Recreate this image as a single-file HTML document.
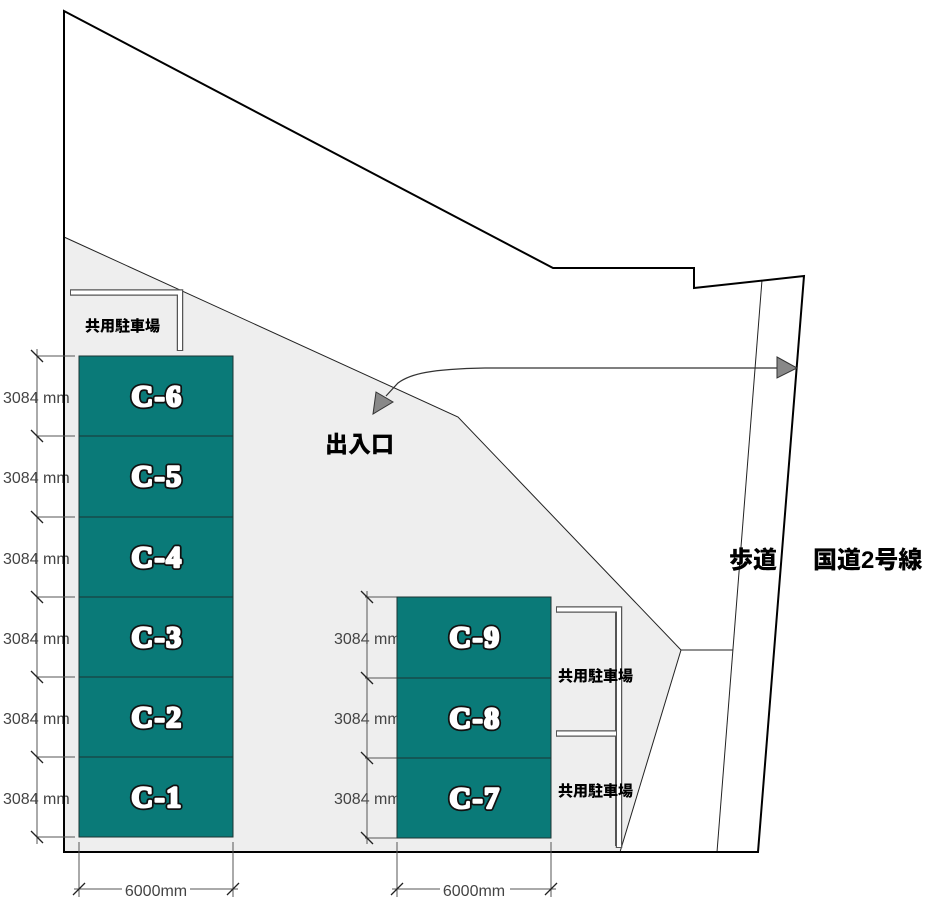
<!DOCTYPE html>
<html><head><meta charset="utf-8"><style>
html,body{margin:0;padding:0;background:#fff;}
svg{display:block;}
.dim{font-family:"Liberation Sans",sans-serif;font-size:16px;fill:#444;}
.cl{font-family:"Liberation Serif",serif;font-weight:bold;font-size:30px;letter-spacing:1.5px;text-anchor:middle;}
.jp{font-family:"Liberation Sans","Noto Sans CJK JP",sans-serif;font-weight:900;fill:#000;}
</style></head><body>
<svg width="929" height="912" viewBox="0 0 929 912" xmlns="http://www.w3.org/2000/svg">
<defs>
<clipPath id="lc"><rect x="0" y="300" width="70" height="560"/></clipPath>
<clipPath id="rc"><rect x="300" y="580" width="97" height="280"/></clipPath>
</defs>
<rect width="929" height="912" fill="#fff"/>
<!-- gray area -->
<polygon points="64,237 458,417 681,650 620,852 64,852" fill="#eeeeee" stroke="none"/>
<polyline points="64,237 458,417 681,650 620,852" fill="none" stroke="#222" stroke-width="1"/>
<line x1="681" y1="650" x2="733" y2="650" stroke="#222" stroke-width="1"/>
<!-- left dim texts -->
<g class="dim" clip-path="url(#lc)">
<text x="3" y="403">3084 mm</text>
<text x="3" y="483">3084 mm</text>
<text x="3" y="564">3084 mm</text>
<text x="3" y="644">3084 mm</text>
<text x="3" y="724">3084 mm</text>
<text x="3" y="804">3084 mm</text>
</g>
<!-- sidewalk line -->
<line x1="762" y1="280" x2="717" y2="852" stroke="#222" stroke-width="1"/>
<!-- outer boundary -->
<path d="M64,852 V11 L553,268 H694 V288 L804,276 L758,852 Z" fill="none" stroke="#000" stroke-width="2"/>

<!-- right dim texts -->
<g class="dim" clip-path="url(#rc)">
<text x="334" y="644">3084 mm</text>
<text x="334" y="724">3084 mm</text>
<text x="334" y="804">3084 mm</text>
</g>

<!-- dimension lines -->
<g stroke="#555" stroke-width="1" fill="none">
<line x1="37" y1="349" x2="37" y2="844"/>
<line x1="37" y1="356" x2="75" y2="356"/>
<line x1="37" y1="436" x2="75" y2="436"/>
<line x1="37" y1="517" x2="75" y2="517"/>
<line x1="37" y1="597" x2="75" y2="597"/>
<line x1="37" y1="677" x2="75" y2="677"/>
<line x1="37" y1="757" x2="75" y2="757"/>
<line x1="37" y1="837" x2="75" y2="837"/>
<line x1="367" y1="591" x2="367" y2="844"/>
<line x1="365" y1="597" x2="397" y2="597"/>
<line x1="365" y1="678" x2="397" y2="678"/>
<line x1="365" y1="758" x2="397" y2="758"/>
<line x1="365" y1="838" x2="397" y2="838"/>
<line x1="79" y1="842" x2="79" y2="897"/>
<line x1="233" y1="842" x2="233" y2="897"/>
<line x1="74" y1="889" x2="238" y2="889"/>
<line x1="397" y1="842" x2="397" y2="897"/>
<line x1="551" y1="842" x2="551" y2="897"/>
<line x1="392" y1="889" x2="556" y2="889"/>
</g>
<g stroke="#222" stroke-width="1.3">
<line x1="31" y1="350" x2="43" y2="362"/>
<line x1="31" y1="430" x2="43" y2="442"/>
<line x1="31" y1="511" x2="43" y2="523"/>
<line x1="31" y1="591" x2="43" y2="603"/>
<line x1="31" y1="671" x2="43" y2="683"/>
<line x1="31" y1="751" x2="43" y2="763"/>
<line x1="31" y1="831" x2="43" y2="843"/>
<line x1="361" y1="591" x2="373" y2="603"/>
<line x1="361" y1="672" x2="373" y2="684"/>
<line x1="361" y1="752" x2="373" y2="764"/>
<line x1="361" y1="832" x2="373" y2="844"/>
<line x1="73" y1="895" x2="85" y2="883"/>
<line x1="227" y1="895" x2="239" y2="883"/>
<line x1="391" y1="895" x2="403" y2="883"/>
<line x1="545" y1="895" x2="557" y2="883"/>
</g>
<rect x="122" y="880" width="68" height="18" fill="#fff"/>
<rect x="440" y="880" width="70" height="18" fill="#fff"/>
<text class="dim" x="156" y="896" text-anchor="middle">6000mm</text>
<text class="dim" x="474" y="896" text-anchor="middle">6000mm</text>

<!-- teal blocks -->
<g fill="#0a7a78" stroke="#1c3433" stroke-width="1">
<rect x="79" y="356" width="154" height="80"/>
<rect x="79" y="436" width="154" height="81"/>
<rect x="79" y="517" width="154" height="80"/>
<rect x="79" y="597" width="154" height="80"/>
<rect x="79" y="677" width="154" height="80"/>
<rect x="79" y="757" width="154" height="80"/>
<rect x="397" y="597" width="154" height="81"/>
<rect x="397" y="678" width="154" height="80"/>
<rect x="397" y="758" width="154" height="80"/>
</g>
<!-- labels -->
<g class="cl" fill="#fff" stroke="#111" stroke-width="6" stroke-linejoin="round">
<text x="157" y="406">C-6</text>
<text x="157" y="486">C-5</text>
<text x="157" y="567">C-4</text>
<text x="157" y="647">C-3</text>
<text x="157" y="727">C-2</text>
<text x="157" y="807">C-1</text>
<text x="475" y="647">C-9</text>
<text x="475" y="728">C-8</text>
<text x="475" y="808">C-7</text>
</g>
<g class="cl" fill="#fff" stroke="#fff" stroke-width="2.5" stroke-linejoin="round">
<text x="157" y="406">C-6</text>
<text x="157" y="486">C-5</text>
<text x="157" y="567">C-4</text>
<text x="157" y="647">C-3</text>
<text x="157" y="727">C-2</text>
<text x="157" y="807">C-1</text>
<text x="475" y="647">C-9</text>
<text x="475" y="728">C-8</text>
<text x="475" y="808">C-7</text>
</g>

<!-- shared parking brackets -->
<g fill="none" stroke="#555" stroke-width="6.5">
<path d="M70,292.5 H180 V351"/>
<path d="M556,609.5 H619 V848"/>
<path d="M556,733.5 H616"/>
</g>
<g fill="none" stroke="#fff" stroke-width="4">
<path d="M71,292.5 H180 V350"/>
<path d="M557,609.5 H619 V847"/>
<path d="M557,733.5 H616"/>
</g>
<line x1="615.5" y1="612" x2="615.5" y2="731" stroke="#555" stroke-width="1"/>
<line x1="615.5" y1="736" x2="615.5" y2="846" stroke="#555" stroke-width="1"/>
<text class="jp" x="85" y="331" font-size="15">共用駐車場</text>
<text class="jp" x="558" y="681" font-size="15">共用駐車場</text>
<text class="jp" x="558" y="796" font-size="15">共用駐車場</text>

<!-- arrow -->
<path d="M777,368 L485,368 C430,369 410,374 398,383 L386,396" fill="none" stroke="#333" stroke-width="1.2"/>
<polygon points="777,357 797,368 777,378" fill="#888" stroke="#333" stroke-width="1"/>
<polygon points="376,392 393,402 373,414" fill="#888" stroke="#333" stroke-width="1"/>

<!-- labels -->
<text class="jp" x="325" y="452" font-size="23">出入口</text>
<text class="jp" x="729" y="568" font-size="24">歩道</text>
<text class="jp" x="813" y="568" font-size="24">国道2号線</text>
</svg>
</body></html>
